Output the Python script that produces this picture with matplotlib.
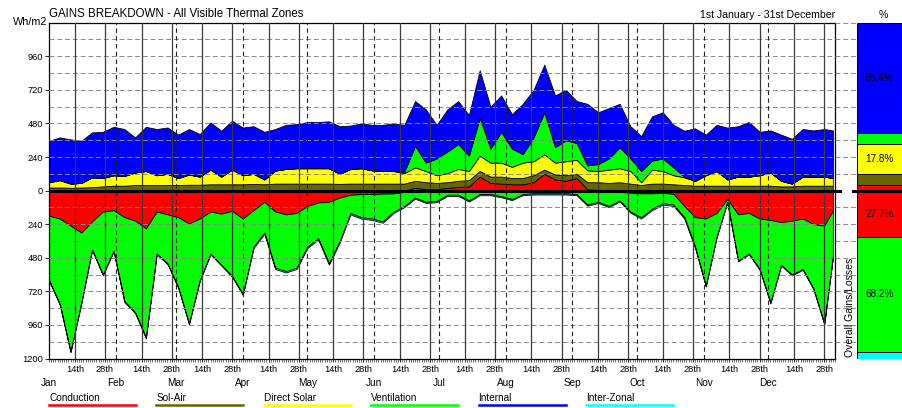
import numpy as np
import matplotlib
matplotlib.use('Agg')
import matplotlib.pyplot as plt
from matplotlib.lines import Line2D
from matplotlib.transforms import blended_transform_factory

plt.rcParams['font.family'] = ['Liberation Sans', 'DejaVu Sans']

# day of year (0 = 1st Jan), one reading every 5 days
days = list(range(0, 361, 5)) + [364]

# gains, Wh/m2 (stacked from zero upwards)
conduction_gain = [0, 0, 0, 0, 0, 0, 0, 0, 0, 0, 0, 0, 0, 0, 0, 0, 0, 0, 0,
                   0, 0, 0, 0, 0, 0, 0, 0, 0, 0, 0, 0, 0, 0, 0, 20, 10, 10,
                   20, 25, 30, 100, 55, 50, 45, 45, 60, 120, 80, 70, 90, 10, 5, 5,
                   5, 0, 0, 0, 0, 0, 0, 0, 0, 0, 0, 0, 0, 0, 0, 0, 0, 0, 0, 0, 0]
sol_air = [22, 22, 20, 22, 25, 30, 35, 35, 40, 40, 40, 40, 40, 42, 42, 45, 45, 45, 45,
           48, 45, 50, 50, 50, 50, 50, 50, 48, 50, 50, 50, 50, 50, 50, 50, 50, 45,
           40, 45, 45, 40, 45, 50, 45, 45, 50, 30, 35, 40, 30, 50, 55, 50,
           55, 50, 40, 50, 50, 45, 40, 35, 35, 35, 35, 35, 35, 35, 35, 30, 30, 35, 35, 35, 35]
direct_solar = [38, 53, 30, 33, 70, 60, 75, 70, 90, 100, 70, 80, 50, 73, 58, 105, 55, 105, 65,
                72, 35, 93, 105, 110, 110, 110, 110, 72, 105, 110, 95, 90, 90, 75, 96, 80, 55,
                65, 85, 65, 110, 100, 100, 80, 110, 100, 110, 85, 100, 100, 85, 80, 95,
                100, 90, 20, 100, 90, 65, 55, 35, 75, 105, 45, 65, 65, 75, 95, 40, 20, 65, 65, 65, 55]
ventilation_gain = [0, 0, 0, 0, 0, 0, 0, 0, 0, 0, 0, 0, 0, 0, 0, 0, 0, 0, 0,
                    0, 0, 0, 0, 0, 0, 0, 0, 0, 0, 0, 0, 0, 0, 10, 154, 60, 120,
                    155, 178, 110, 270, 100, 220, 130, 60, 170, 300, 110, 150, 120, 35, 50, 80,
                    150, 90, 80, 64, 90, 56, 5, 0, 0, 0, 0, 0, 0, 0, 0, 0, 0, 0, 0, 0, 0]
internal = [296, 305, 316, 301, 321, 330, 346, 335, 250, 316, 330, 331, 310, 325, 304, 337, 328, 349, 341,
            340, 340, 297, 315, 315, 330, 330, 335, 340, 310, 320, 325, 330, 340, 335, 320, 380, 240,
            300, 307, 290, 340, 300, 260, 246, 360, 340, 340, 370, 360, 300, 440, 370, 360,
            310, 230, 250, 316, 330, 304, 328, 375, 290, 330, 370, 360, 390, 310, 300, 330, 320, 340, 330, 340, 340]

# losses, Wh/m2 (stacked from zero downwards)
conduction_loss = [180, 200, 250, 300, 220, 150, 140, 190, 215, 270, 150, 170, 190, 235, 200, 150, 165, 145, 200,
                   140, 80, 150, 170, 160, 110, 85, 80, 50, 30, 25, 25, 22, 20, 10, 5, 5, 5,
                   5, 5, 5, 5, 5, 5, 5, 5, 5, 5, 5, 5, 5, 10, 10, 10,
                   10, 15, 20, 20, 15, 24, 110, 190, 200, 160, 60, 170, 160, 200, 210, 225, 215, 200, 240, 250, 143]
ventilation_loss = [460, 610, 900, 500, 200, 450, 290, 600, 655, 780, 300, 350, 500, 715, 440, 300, 365, 465, 540,
                    260, 220, 400, 405, 390, 290, 255, 440, 310, 130, 165, 175, 198, 130, 100, 45, 75, 70,
                    25, 25, 65, 20, 20, 35, 55, 20, 15, 15, 15, 15, 20, 90, 70, 100,
                    60, 135, 170, 110, 75, 76, 80, 210, 480, 170, 20, 330, 290, 360, 590, 305, 385, 360, 460, 700, 332]
inter_zonal = [6] * 19 + [10] * 14 + [8] * 22 + [10] * 6 + [6] * 13

months = ['Jan', 'Feb', 'Mar', 'Apr', 'May', 'Jun', 'Jul', 'Aug', 'Sep', 'Oct', 'Nov', 'Dec']
month_start = [0, 31, 59, 90, 120, 151, 181, 212, 243, 273, 304, 334]

# overall split shown in the bar on the right, %
bar_gain_pct = [3.3, 6.5, 17.8, 7.0, 65.4]    # conduction, sol-air, direct solar, ventilation, internal
bar_loss_pct = [27.7, 68.2, 4.1]              # conduction, ventilation, inter-zonal

legend_names = ['Conduction', 'Sol-Air', 'Direct Solar', 'Ventilation', 'Internal', 'Inter-Zonal']
legend_colors = ['#ff0000', '#666600', '#ffff00', '#00ff00', '#0000ff', '#00ffff']

W, H = 902, 408
fx = lambda px: px / W
fy = lambda py: 1 - py / H

fig = plt.figure(figsize=(W / 100, H / 100), dpi=100)
ax = fig.add_axes([fx(49), fy(358.5), fx(835) - fx(49), fy(22.7) - fy(358.5)])

x = np.array(days)
gains = [conduction_gain, sol_air, direct_solar, ventilation_gain, internal]
gain_colors = ['#ff0000', '#666600', '#ffff00', '#00ff00', '#0000ff']
base = np.zeros(len(days))
for vals, col in zip(gains, gain_colors):
    top = base + np.array(vals)
    ax.fill_between(x, base, top, facecolor=col, edgecolor='black', linewidth=0.6, zorder=2)
    base = top

losses = [conduction_loss, ventilation_loss, inter_zonal]
loss_colors = ['#ff0000', '#00ff00', '#00ffff']
base = np.zeros(len(days))
for vals, col in zip(losses, loss_colors):
    bot = base - np.array(vals)
    ax.fill_between(x, bot, base, facecolor=col, edgecolor='black', linewidth=0.6, zorder=2)
    base = bot

ax.set_xlim(0, 365)
ax.set_ylim(-1200, 1200)

# grid on top of the areas
for v in range(-1080, 1081, 120):
    if v != 0:
        ax.axhline(v, color='#8a8a8a', lw=0.7, ls=(0, (5, 3)), zorder=4)
for m in month_start[1:]:
    ax.axvline(m, color='#222222', lw=0.8, ls=(0, (4, 3)), zorder=4)
mid_pos = []
for m in month_start:
    mid_pos += [m + 12, m + 26]
for p in mid_pos:
    ax.axvline(p, color='#3a3a3a', lw=0.9, zorder=4)
ax.axhline(0, color='black', lw=2.2, zorder=5)

yt = [-1200, -960, -720, -480, -240, 0, 240, 480, 720, 960]
ax.set_yticks(yt)
ax.set_yticklabels([str(abs(v)) for v in yt])
ax.set_xticks(mid_pos)
ax.set_xticklabels(['14th', '28th'] * 12)
ax.set_xticks(np.arange(0, 366), minor=True)
ax.tick_params(axis='both', labelsize=6.7, length=3, width=0.6, pad=1.5, direction='out')
ax.tick_params(axis='x', which='minor', length=2, width=0.4)
ax.tick_params(axis='x', which='major', length=2, pad=3)
for s in ax.spines.values():
    s.set_linewidth(0.9)

trans = blended_transform_factory(ax.transData, fig.transFigure)
for name, m in zip(months, month_start):
    ax.text(m, fy(383), name, transform=trans, ha='center', va='center', fontsize=7.2)

# gap between chart and bar: grid continues
ax_gap = fig.add_axes([fx(835), fy(358.5), fx(856.5) - fx(835), fy(22.7) - fy(358.5)])
ax_gap.set_xlim(0, 1)
ax_gap.set_ylim(-1200, 1200)
ax_gap.axis('off')
for v in range(-1200, 1201, 120):
    if v != 0:
        ax_gap.axhline(v, color='#8a8a8a', lw=0.7, ls=(0, (5, 3)))
ax_gap.plot([0, 0.25], [0, 0], color='black', lw=2.2)
ax_gap.plot([0.82, 1], [0, 0], color='black', lw=2.2)

# overall split bar
ax_bar = fig.add_axes([fx(856.5), fy(358.5), 1 - fx(856.5), fy(22.7) - fy(358.5)])
ax_bar.set_xlim(0, 1)
ax_bar.set_ylim(-1200, 1200)
ax_bar.axis('off')
b = 0
for pct, col in zip(bar_gain_pct, gain_colors):
    h = pct * 12
    ax_bar.bar(0.5, h, bottom=b, width=0.98, color=col, edgecolor='black', linewidth=0.7)
    if pct >= 10:
        ax_bar.text(0.5, b + h / 2, '%.1f%%' % pct, ha='center', va='center', fontsize=7.2)
    b += h
b = 0
for pct, col in zip(bar_loss_pct, loss_colors):
    h = pct * 12
    ax_bar.bar(0.5, -h, bottom=b, width=0.98, color=col, edgecolor='black', linewidth=0.7)
    if pct >= 10:
        ax_bar.text(0.5, b - h / 2, '%.1f%%' % pct, ha='center', va='center', fontsize=7.2)
    b -= h
ax_bar.axhline(0, color='black', lw=2.2)

fig.text(fx(49), fy(14), 'GAINS BREAKDOWN - All Visible Thermal Zones', fontsize=8.3, va='center', ha='left')
fig.text(fx(835), fy(15), '1st January - 31st December', fontsize=7.6, va='center', ha='right')
fig.text(fx(883), fy(15), '%', fontsize=7.6, va='center', ha='center')
fig.text(fx(47), fy(22), 'Wh/m2', fontsize=7.8, va='center', ha='right')
fig.text(fx(850), fy(357), 'Overall Gains/Losses', fontsize=7.5, rotation=90, va='bottom', ha='center')

# legend along the bottom
for i, (name, col) in enumerate(zip(legend_names, legend_colors)):
    x0 = 49 + i * 107.4
    fig.text(fx(x0), fy(398), name, fontsize=7.2, va='center', ha='left')
    fig.add_artist(Line2D([fx(x0), fx(x0 + 87)], [fy(405), fy(405)], color=col, lw=1.8,
                          transform=fig.transFigure))

fig.savefig('out.png', dpi=100)
